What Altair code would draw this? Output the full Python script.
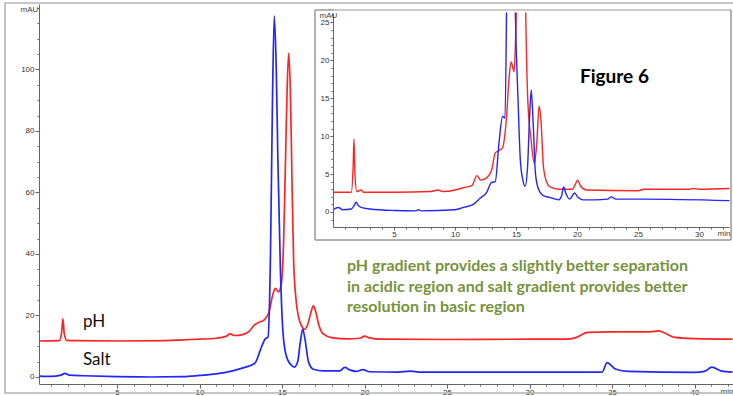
import altair as alt
import pandas as pd

# ---------------- data ----------------
ph_time = [0.3, 1.5, 1.65, 1.72, 1.8, 1.95, 2.5, 5, 8, 9, 10, 11, 11.6, 11.85, 12.1, 12.6,
           13.0, 13.3, 13.6, 13.9, 14.2, 14.45, 14.6, 14.78, 14.95, 15.1, 15.2, 15.3, 15.4,
           15.5, 15.6, 15.7, 15.85, 16.0, 16.2, 16.35, 16.55, 16.75, 16.9, 17.05, 17.25, 17.5,
           18, 19, 19.7, 20.0, 20.3, 21, 25, 30, 32.3, 32.8, 33.5, 35, 37.3, 37.8, 38.2, 38.8,
           40, 42.3]
ph_mau = [11.7, 11.8, 15.0, 18.9, 14.0, 11.9, 11.8, 11.7, 11.8, 12.1, 12.3, 12.6, 13.2, 14.0,
          13.5, 13.8, 14.8, 16.8, 17.8, 18.5, 21.0, 27.0, 28.8, 27.7, 30.0, 45.0, 68.0, 92.0,
          105.3, 94.0, 65.0, 38.0, 25.0, 19.5, 16.5, 15.5, 17.0, 21.0, 23.1, 21.0, 16.5, 14.0,
          12.8, 12.4, 12.6, 13.3, 12.7, 12.3, 12.2, 12.3, 12.3, 12.8, 14.5, 14.7, 14.7, 15.0,
          14.3, 12.9, 12.5, 12.3]

salt_time = [0.3, 1.0, 1.6, 1.85, 2.1, 3, 5, 7, 9, 10, 11, 12, 12.8, 13.16, 13.4, 13.7, 13.97,
             14.15, 14.3, 14.42, 14.53, 14.65, 14.75, 14.9, 15.05, 15.25, 15.5, 15.75, 15.95,
             16.1, 16.25, 16.4, 16.6, 16.9, 17.5, 18.5, 18.8, 19.1, 19.5, 19.9, 20.3, 22, 22.8,
             23.3, 28, 34.4, 34.7, 35.2, 36, 40, 40.6, 41.05, 41.6, 42.3]
salt_mau = [0.3, 0.2, 0.6, 1.2, 0.6, 0.4, 0.1, 0.0, 0.1, 0.5, 1.0, 2.0, 3.2, 3.9, 4.8, 9.0,
            12.3, 13.0, 40.0, 90.0, 117.4, 100.0, 70.0, 35.0, 15.0, 7.0, 4.2, 3.2, 5.0, 11.0,
            15.5, 12.0, 5.0, 2.5, 2.0, 2.0, 3.1, 2.3, 1.8, 2.4, 1.7, 1.6, 1.9, 1.6, 1.6, 1.6,
            4.7, 2.6, 1.8, 1.5, 1.8, 3.2, 2.0, 1.6]

inset_ph_time = [0, 1.5, 1.65, 1.72, 1.8, 1.95, 2.3, 2.5, 5, 8, 8.6, 9, 10, 10.7, 11.4, 11.8,
                 12.1, 12.6, 13.0, 13.3, 13.6, 13.9, 14.2, 14.45, 14.6, 14.84, 14.95, 15.1,
                 15.2, 15.4, 15.55, 15.7, 15.8, 15.97, 16.24, 16.5, 16.7, 16.9, 17.05, 17.25,
                 17.5, 17.8, 18.5, 19.6, 19.85, 20.05, 20.3, 20.8, 25, 25.5, 29.2, 29.5, 30, 32.5]
inset_ph_mau = [2.6, 2.6, 6.0, 9.6, 5.0, 2.7, 2.9, 2.6, 2.6, 2.7, 2.9, 2.7, 2.9, 3.2, 3.5, 4.8,
                4.2, 4.5, 5.5, 7.8, 8.1, 8.5, 12.0, 18.0, 19.8, 18.5, 22.0, 35.0, 60.0, 95.0,
                70.0, 38.0, 26.0, 14.7, 9.5, 6.4, 9.0, 14.0, 12.0, 6.0, 4.0, 3.3, 3.0, 3.0,
                3.6, 4.2, 3.4, 2.9, 2.8, 3.0, 3.0, 3.1, 3.0, 3.1]

inset_salt_time = [0, 0.44, 0.8, 1.5, 1.75, 1.9, 2.05, 2.3, 3, 5, 6.8, 7, 7.2, 10, 10.7, 11.5,
                   12.05, 12.6, 13.0, 13.3, 13.6, 13.9, 14.1, 14.22, 14.35, 14.53, 14.7, 14.85,
                   14.95, 15.17, 15.35, 15.55, 15.75, 15.95, 16.1, 16.25, 16.4, 16.6, 16.85,
                   17.2, 17.8, 18.5, 18.75, 18.9, 19.1, 19.4, 19.8, 20.1, 20.5, 21.5, 22.5,
                   22.8, 23.2, 25.5, 32.5]
inset_salt_mau = [0.3, 0.6, 0.3, 0.4, 0.9, 1.3, 0.9, 0.6, 0.4, 0.2, 0.15, 0.3, 0.15, 0.3, 0.6,
                  1.0, 1.8, 2.6, 3.9, 4.0, 9.0, 12.6, 12.4, 26.0, 55.0, 110.0, 60.0, 35.0,
                  26.0, 14.7, 7.0, 4.3, 3.4, 6.0, 12.0, 16.1, 12.0, 5.0, 3.0, 2.2, 1.9, 1.6,
                  2.2, 3.3, 2.4, 1.7, 2.5, 1.9, 1.6, 1.6, 1.7, 2.0, 1.7, 1.7, 1.5]

series_names = ["pH", "Salt"]
series_colors = ["#ff2424", "#2424ff"]

main_x_ticks = [5, 10, 15, 20, 25, 30, 35, 40]
main_x_minor = list(range(1, 43))
main_y_ticks = [0, 20, 40, 60, 80, 100]
main_y_minor = list(range(0, 125, 5))
inset_x_ticks = [5, 10, 15, 20, 25, 30]
inset_x_minor = list(range(1, 33))
inset_y_ticks = [0, 5, 10, 15, 20, 25]
inset_y_minor = list(range(-1, 27))

note_lines = ["pH gradient provides a slightly better separation",
              "in acidic region and salt gradient provides better",
              "resolution in basic region"]
figure_label = "Figure 6"

# ---------------- tables ----------------
main_df = pd.concat([
    pd.DataFrame({"t": ph_time, "v": ph_mau, "series": "pH", "o": range(len(ph_time))}),
    pd.DataFrame({"t": salt_time, "v": salt_mau, "series": "Salt", "o": range(len(salt_time))}),
])
inset_df = pd.concat([
    pd.DataFrame({"t": inset_ph_time, "v": inset_ph_mau, "series": "pH", "o": range(len(inset_ph_time))}),
    pd.DataFrame({"t": inset_salt_time, "v": inset_salt_mau, "series": "Salt", "o": range(len(inset_salt_time))}),
])
one = pd.DataFrame({"t": [10.0], "v": [10.0]})

W, H = 694, 380
MAIN_X = alt.Scale(domain=[0.27, 42.33], nice=False, zero=False)
MAIN_Y = alt.Scale(domain=[-2.28, 121.3], nice=False, zero=False)
INS_X = alt.Scale(domain=[0, 32.46], range=[294, 690], nice=False, zero=False)
INS_Y = alt.Scale(domain=[-1.98, 26.25], range=[223, 9], nice=False, zero=False)
color = alt.Color("series:N", scale=alt.Scale(domain=series_names, range=series_colors), legend=None)

AX = dict(labelFont="Liberation Sans", labelFontSize=8, labelColor="#333333",
          tickColor="#666666", domainColor="#666666", grid=False,
          titleFont="Liberation Sans", titleFontSize=8, titleFontWeight="normal",
          titleColor="#444444", titleAngle=0, titleBaseline="middle")

main_lines = alt.Chart(main_df).mark_line(strokeWidth=1.7, interpolate="monotone").encode(
    x=alt.X("t:Q", scale=MAIN_X, axis=alt.Axis(orient="bottom", values=main_x_ticks, tickSize=4,
            labelPadding=0, title="min", titleX=694, titleY=7, titleAlign="right", **AX)),
    y=alt.Y("v:Q", scale=MAIN_Y, axis=alt.Axis(orient="left", values=main_y_ticks, tickSize=4,
            labelPadding=1, title="mAU", titleX=-10, titleY=5, titleAlign="center", **AX)),
    color=color, order="o:Q",
)

main_minor = alt.Chart(one).mark_point(opacity=0).encode(
    x=alt.X("t:Q", scale=MAIN_X, axis=alt.Axis(orient="bottom", values=main_x_minor, labels=False,
            domain=False, tickSize=2, title=None, tickColor="#666666", grid=False)),
    y=alt.Y("v:Q", scale=MAIN_Y, axis=alt.Axis(orient="left", values=main_y_minor, labels=False,
            domain=False, tickSize=2, title=None, tickColor="#666666", grid=False)),
)

inset_bg = alt.Chart(one).mark_rect(fill="white", stroke="#999999", strokeWidth=1).encode(
    x=alt.value(276), x2=alt.value(692), y=alt.value(6), y2=alt.value(236))

inset_lines = alt.Chart(inset_df).mark_line(strokeWidth=1.4, interpolate="monotone", clip=True).encode(
    x=alt.X("t:Q", scale=INS_X, axis=alt.Axis(orient="bottom", offset=-157, values=inset_x_ticks,
            tickSize=3, labelPadding=0, zindex=1, title="min", titleX=691, titleY=6,
            titleAlign="right", **AX)),
    y=alt.Y("v:Q", scale=INS_Y, axis=alt.Axis(orient="left", offset=-294, values=inset_y_ticks,
            tickSize=3, labelPadding=1, zindex=1, title="mAU", titleX=-5, titleY=11,
            titleAlign="center", **AX)),
    color=color, order="o:Q",
)

inset_minor = alt.Chart(one).mark_point(opacity=0).encode(
    x=alt.X("t:Q", scale=INS_X, axis=alt.Axis(orient="bottom", offset=-157, values=inset_x_minor,
            labels=False, domain=False, tickSize=2, zindex=1, title=None, tickColor="#666666", grid=False)),
    y=alt.Y("v:Q", scale=INS_Y, axis=alt.Axis(orient="left", offset=-294, values=inset_y_minor,
            labels=False, domain=False, tickSize=2, zindex=1, title=None, tickColor="#666666", grid=False)),
)

cover = alt.Chart(one).mark_rect(fill="white", strokeWidth=0).encode(
    x=alt.value(295), x2=alt.value(691), y=alt.value(0), y2=alt.value(8.6))

inset_frame = alt.Chart(one).mark_rect(fillOpacity=0, stroke="#999999", strokeWidth=1).encode(
    x=alt.value(276), x2=alt.value(692), y=alt.value(6), y2=alt.value(236))

outer_frame = alt.Chart(one).mark_rect(fillOpacity=0, stroke="#b4b4b4", strokeWidth=1.6).encode(
    x=alt.value(-34), x2=alt.value(705), y=alt.value(-1), y2=alt.value(389))

label_df = pd.DataFrame({"name": series_names})
ph_label = alt.Chart(label_df[label_df["name"] == "pH"]).mark_text(
    font="Lato", fontSize=17, align="left", baseline="alphabetic", color="#111111").encode(
    text="name:N", x=alt.value(44), y=alt.value(322.5))
salt_label = alt.Chart(label_df[label_df["name"] == "Salt"]).mark_text(
    font="Lato", fontSize=17, align="left", baseline="alphabetic", color="#111111").encode(
    text="name:N", x=alt.value(44), y=alt.value(361))

note = alt.Chart(one).mark_text(
    font="Lato", fontSize=16, fontWeight="bold", align="left", baseline="top",
    lineHeight=20.5, color="#77933c").encode(
    text=alt.value(note_lines), x=alt.value(308), y=alt.value(254))

fig = alt.Chart(one).mark_text(
    font="Lato", fontSize=19, fontWeight="bold", align="left", baseline="alphabetic",
    color="#000000").encode(text=alt.value(figure_label), x=alt.value(541), y=alt.value(78.5))

chart = alt.layer(
    main_lines, main_minor, inset_bg, inset_lines, inset_minor, cover, inset_frame,
    ph_label, salt_label, note, fig, outer_frame,
).resolve_scale(x="independent", y="independent").properties(
    width=W, height=H,
    autosize=alt.AutoSizeParams(type="none"),
    padding={"left": 39, "top": 4, "right": 0, "bottom": 12},
    background="white",
).configure_view(stroke=None)

chart.save("out.html", embed_options={"renderer": "svg", "actions": False})
